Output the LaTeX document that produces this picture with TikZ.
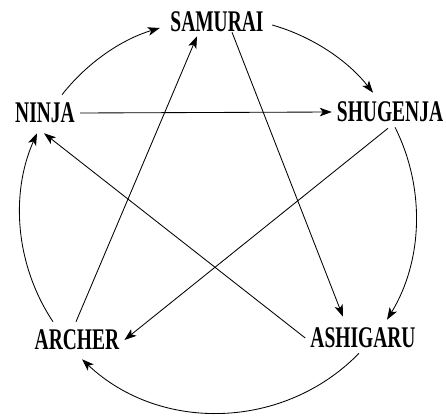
\documentclass[tikz,border=0pt]{standalone}
\usepackage{fontspec}
\newfontfamily\lblfont[FakeStretch=0.65]{Liberation Serif}
\usetikzlibrary{arrows.meta,calc}
\begin{document}
\begin{tikzpicture}[x=1pt,y=1pt,
  lbl/.style={inner sep=0pt,minimum height=20pt,font=\lblfont\bfseries\fontsize{30}{30}\selectfont},
  conn/.style={line width=0.85pt,-{Stealth[length=12pt,width=8.5pt,inset=3pt]}}]
\useasboundingbox (0,0) rectangle (446,415);
\node[lbl,minimum width=96pt] (samurai) at (217,393) {SAMURAI};
\node[lbl,minimum width=60pt] (ninja) at (45,302) {NINJA};
\node[lbl,minimum width=110pt] (shugenja) at (390,303) {SHUGENJA};
\node[lbl,minimum width=84pt] (archer) at (77,75) {ARCHER};
\node[lbl,minimum width=104pt] (ashigaru) at (363,77) {ASHIGARU};
% outer circle arcs
\draw[conn] ($(ninja.north)+(17,8)$) to[bend left=17.7,looseness=0.87] ($(samurai.west)+(-9,-6)$);
\draw[conn] ($(samurai.east)+(7,-3)$) to[bend left=18,looseness=0.87] ($(shugenja.north)+(-17,9)$);
\draw[conn] ($(shugenja.south)+(5,-5)$) to[bend left=29,looseness=0.91] ($(ashigaru.north)+(24,8)$);
\draw[conn] ($(ashigaru.south)+(-4,-5)$) to[bend left=44.5,looseness=0.99] ($(archer.south)+(5,-9)$);
\draw[conn] ($(archer.north)+(-24,8)$) to[bend left=28.8,looseness=0.91] ($(ninja.south)+(-8,-10)$);
% star lines
\draw[conn] ($(ninja.east)+(5,0)$) -- ($(shugenja.west)+(-3,0)$);
\draw[conn] ($(archer.north)+(-1,8)$) -- ($(samurai.south)+(-20,-4)$);
\draw[conn] ($(samurai.south)+(15,0)$) -- ($(ashigaru.north)+(-20,11)$);
\draw[conn] ($(ashigaru.west)+(-5,0)$) -- ($(ninja.south)+(-1,-10)$);
\draw[conn] ($(shugenja.south)+(-2,-6)$) -- ($(archer.east)+(5,0)$);
\end{tikzpicture}
\end{document}
